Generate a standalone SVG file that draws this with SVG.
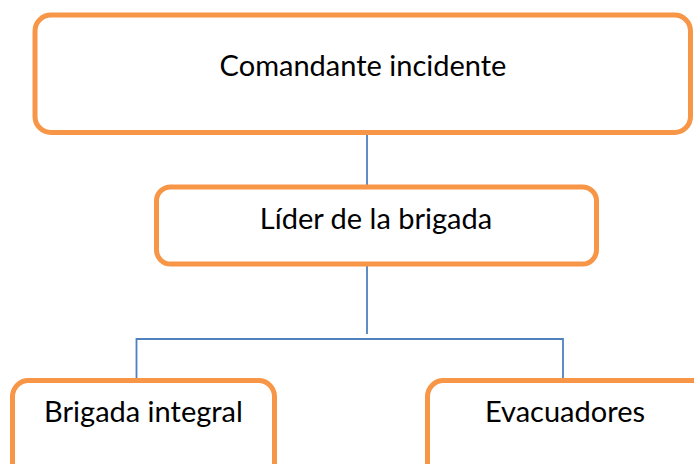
<svg xmlns="http://www.w3.org/2000/svg" width="694" height="464" viewBox="0 0 694 464">
<style>
.box{fill:#fff;stroke:#F79646;stroke-width:5}
.lbl{font-family:Lato,"Open Sans","Liberation Sans",sans-serif;font-size:29px;fill:#000;text-anchor:middle}
.con{stroke:#4F81BD;stroke-width:1.8;fill:none}
</style>
<rect width="694" height="464" fill="#fff"/>
<g id="connectors">
<line class="con" x1="367" y1="132" x2="367" y2="187"/>
<line class="con" x1="367" y1="265" x2="367" y2="334"/>
<polyline class="con" points="136.5,380 136.5,339 563,339 563,380"/>
</g>
<g id="n1">
<rect class="box" x="35" y="15" width="655.5" height="117.5" rx="16"/>
<text class="lbl" x="363" y="76">Comandante incidente</text>
</g>
<g id="n2">
<rect class="box" x="156.5" y="187" width="440" height="77" rx="14"/>
<text class="lbl" x="376" y="229">Líder de la brigada</text>
</g>
<g id="n3">
<rect class="box" x="12.5" y="380.5" width="262" height="110" rx="16"/>
<text class="lbl" x="143.5" y="422">Brigada integral</text>
</g>
<g id="n4">
<rect class="box" x="427.5" y="380.5" width="300" height="110" rx="16"/>
<text class="lbl" x="565" y="422">Evacuadores</text>
</g>
</svg>
